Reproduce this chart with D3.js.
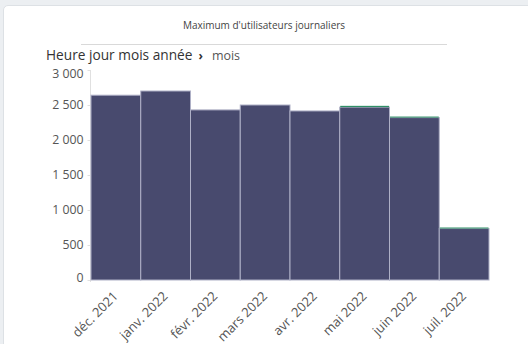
<!DOCTYPE html>
<html>
<head>
<meta charset="utf-8">
<script src="https://cdn.jsdelivr.net/npm/d3@7"></script>
<style>
  html, body { margin: 0; padding: 0; background: #eceff2; }
  body { width: 528px; height: 344px; overflow: hidden; position: relative; font-family: "Open Sans", "Noto Sans", sans-serif; }
  .card { position: absolute; left: 3px; top: 5px; width: 540px; height: 360px; background: #fff; border: 1px solid #dde1e5; border-radius: 5px; }
  svg { position: absolute; left: 0; top: 0; }
</style>
</head>
<body>
<div class="card"></div>
<svg id="chart" width="528" height="344"></svg>
<script>
// Monthly peak of daily users
const months = ["déc. 2021", "janv. 2022", "févr. 2022", "mars 2022", "avr. 2022", "mai 2022", "juin 2022", "juil. 2022"];
const mainValues = [2640, 2700, 2430, 2500, 2415, 2470, 2320, 735];
const extraValues = [0, 0, 0, 0, 0, 18, 15, 15];
const yTicks = [0, 500, 1000, 1500, 2000, 2500, 3000];

const title = "Maximum d'utilisateurs journaliers";
const crumbRoot = "Heure jour mois année";
const crumbLeaf = "mois";

const fr = d3.formatLocale({ decimal: ",", thousands: "\u00a0", grouping: [3], currency: ["", " €"] });
const fmt = fr.format(",d");

const svg = d3.select("#chart");
const m = { left: 91, right: 489, top: 70, bottom: 280 };

const x = d3.scaleBand().domain(months).range([m.left, m.right]).padding(0);
const y = d3.scaleLinear().domain([0, 3000]).range([m.bottom, m.top]);

// title and divider
svg.append("text").attr("x", 264).attr("y", 29).attr("text-anchor", "middle")
  .attr("font-size", 10).attr("fill", "#444").text(title);
svg.append("line").attr("x1", 81).attr("x2", 447).attr("y1", 44.5).attr("y2", 44.5)
  .attr("stroke", "#d9d9d9").attr("stroke-width", 1);

// drill-down breadcrumb
const crumb = svg.append("text").attr("x", 46).attr("y", 60).attr("font-size", 13.7).attr("fill", "#333");
crumb.append("tspan").text(crumbRoot);
crumb.append("tspan").attr("dx", 6).attr("font-weight", "bold").attr("font-size", 12).attr("fill", "#333").text("›");
crumb.append("tspan").attr("dx", 9).attr("font-size", 12.5).attr("fill", "#555").text(crumbLeaf);

// y axis
const yAxis = svg.append("g").attr("transform", `translate(${m.left - 0.5},0)`)
  .call(d3.axisLeft(y).tickValues(yTicks).tickFormat(fmt).tickSize(3).tickPadding(4));
yAxis.select(".domain").attr("stroke", "#e0e0e0").attr("d", `M0,${m.top}V${m.bottom + 2}`);
yAxis.selectAll(".tick line").attr("stroke", "#e0e0e0");
yAxis.selectAll(".tick text").attr("font-size", 12.3).attr("fill", "#555")
  .attr("font-family", "'Open Sans', 'Noto Sans', sans-serif")
  .attr("dy", d => d === 3000 ? "0.62em" : d === 0 ? "0.1em" : "0.32em");

// bars: main series then small cap series stacked on top
const bars = svg.append("g");
bars.selectAll("rect.main").data(months).join("rect").attr("class", "main")
  .attr("x", d => x(d)).attr("width", x.bandwidth())
  .attr("y", (d, i) => y(mainValues[i])).attr("height", (d, i) => y(0) - y(mainValues[i]))
  .attr("fill", "#484a6e").attr("stroke", "#aeb0c6").attr("stroke-width", 1);
bars.selectAll("rect.extra").data(months).join("rect").attr("class", "extra")
  .attr("x", d => x(d) + 0.5).attr("width", x.bandwidth() - 1)
  .attr("y", (d, i) => y(mainValues[i] + extraValues[i]))
  .attr("height", (d, i) => y(mainValues[i]) - y(mainValues[i] + extraValues[i]))
  .attr("fill", "#2f8f66");

// x axis labels
const xAxis = svg.append("g").attr("transform", `translate(0,${m.bottom})`)
  .call(d3.axisBottom(x).tickSize(0).tickPadding(0));
xAxis.select(".domain").remove();
xAxis.selectAll(".tick text").attr("font-size", 13).attr("fill", "#555")
  .attr("font-family", "'Open Sans', 'Noto Sans', sans-serif")
  .attr("text-anchor", "end").attr("dy", null).attr("y", 0)
  .attr("transform", "translate(3,17) rotate(-45)");
</script>
</body>
</html>
